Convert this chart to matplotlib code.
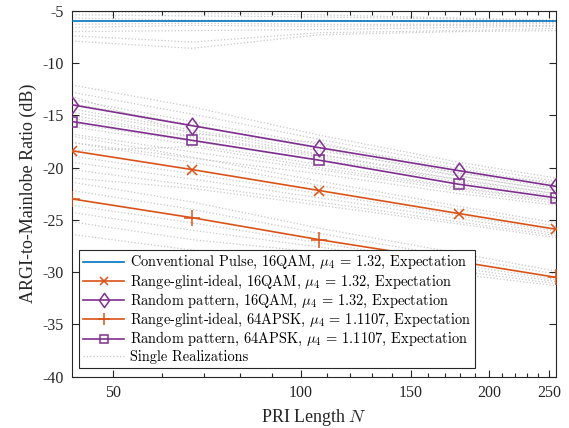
import matplotlib
matplotlib.use("Agg")
import matplotlib.pyplot as plt
from matplotlib.ticker import FixedLocator, NullFormatter
from matplotlib.lines import Line2D
from matplotlib.path import Path

plt.rcParams['axes.unicode_minus'] = False
plt.rcParams['mathtext.fontset'] = 'cm'
plt.rcParams['font.family'] = 'Liberation Serif'

# ---- data ----
N = [43, 67, 107, 179, 256]

conv_exp = [-6.0, -6.0, -6.0, -6.0, -6.0]
rg16_exp = [-18.4, -20.2, -22.2, -24.4, -25.9]
rp16_exp = [-14.0, -16.0, -18.1, -20.3, -21.8]
rg64_exp = [-23.0, -24.8, -26.9, -29.0, -30.5]
rp64_exp = [-15.6, -17.4, -19.3, -21.6, -22.9]

conv_real = [
    [-5.1, -5.2, -5.4, -5.7, -5.9],
    [-5.4, -5.5, -5.6, -5.8, -6.0],
    [-5.7, -5.9, -5.9, -6.1, -6.1],
    [-6.3, -6.2, -6.3, -6.3, -6.2],
    [-6.6, -6.4, -6.5, -6.4, -6.4],
    [-7.0, -6.9, -6.8, -6.6, -6.5],
    [-7.4, -8.0, -7.1, -6.9, -6.7],
    [-7.9, -8.6, -7.3, -7.0, -6.9],
]
rp16_real = [
    [-12.1, -14.2, -16.9, -19.5, -21.0],
    [-12.8, -14.9, -17.3, -19.8, -21.3],
    [-13.5, -15.6, -17.8, -20.1, -21.6],
    [-14.4, -16.4, -18.4, -20.5, -22.0],
    [-15.0, -17.0, -18.8, -20.8, -22.2],
    [-15.8, -17.5, -19.3, -21.1, -22.5],
    [-13.2, -16.8, -17.6, -20.6, -21.4],
]
rp64_real = [
    [-13.9, -15.9, -18.2, -20.8, -22.2],
    [-14.7, -16.6, -18.7, -21.2, -22.5],
    [-15.3, -17.1, -19.0, -21.4, -22.7],
    [-16.1, -17.8, -19.7, -21.9, -23.1],
    [-16.8, -18.5, -20.2, -22.2, -23.4],
    [-17.6, -19.1, -20.6, -22.5, -23.6],
    [-18.4, -18.0, -20.0, -22.0, -23.2],
]
rg16_real = [
    [-17.0, -19.0, -21.3, -23.7, -25.3],
    [-17.6, -19.5, -21.7, -24.0, -25.6],
    [-18.9, -20.6, -22.5, -24.6, -26.1],
    [-19.5, -21.1, -22.9, -24.9, -26.3],
    [-20.2, -21.7, -23.3, -25.2, -26.5],
    [-21.0, -22.0, -23.6, -25.4, -26.7],
]
rg64_real = [
    [-21.4, -23.3, -25.8, -28.2, -29.9],
    [-22.2, -24.0, -26.3, -28.6, -30.2],
    [-23.6, -25.3, -27.2, -29.3, -30.7],
    [-24.3, -26.0, -27.6, -29.6, -30.9],
    [-25.2, -26.9, -28.1, -29.9, -31.1],
    [-26.4, -27.9, -28.6, -30.2, -31.3],
]

labels = [
    r"Conventional Pulse, 16QAM, $\mu_4$ = 1.32, Expectation",
    r"Range-glint-ideal, 16QAM, $\mu_4$ = 1.32, Expectation",
    r"Random pattern, 16QAM, $\mu_4$ = 1.32, Expectation",
    r"Range-glint-ideal, 64APSK, $\mu_4$ = 1.1107, Expectation",
    r"Random pattern, 64APSK, $\mu_4$ = 1.1107, Expectation",
    "Single Realizations",
]
xticks = [50, 100, 150, 200, 250]
yticks = [-40, -35, -30, -25, -20, -15, -10, -5]

blue = '#0072BD'
orange = '#D95319'
purple = '#7E2F8E'
gray = '#c8c8c8'

diamond = Path([(0, 1), (0.72, 0), (0, -1), (-0.72, 0), (0, 1)],
               [Path.MOVETO, Path.LINETO, Path.LINETO, Path.LINETO, Path.CLOSEPOLY])

fig = plt.figure(figsize=(5.69, 4.28), dpi=100)
ax = fig.add_axes([0.1265, 0.12, 0.8505, 0.855])

for grp in (conv_real, rp16_real, rp64_real, rg16_real, rg64_real):
    for r in grp:
        ax.plot(N, r, linestyle=':', color=gray, linewidth=0.9, zorder=1)

lw = 1.2
sty = {
    'conv': dict(color=blue, lw=lw),
    'rg16': dict(color=orange, lw=lw, marker='x', ms=7, mew=1.1),
    'rp16': dict(color=purple, lw=lw, marker=diamond, ms=12, mfc='none', mew=1.1),
    'rg64': dict(color=orange, lw=lw, marker='+', ms=11, mew=1.1),
    'rp64': dict(color=purple, lw=lw, marker='s', ms=7, mfc='none', mew=1.1),
}
ax.plot(N, conv_exp, zorder=3, **sty['conv'])
ax.plot(N, rg16_exp, zorder=3, **sty['rg16'])
ax.plot(N, rp16_exp, zorder=3, **sty['rp16'])
ax.plot(N, rg64_exp, zorder=3, **sty['rg64'])
ax.plot(N, rp64_exp, zorder=3, **sty['rp64'])

ax.set_xscale('log')
ax.set_xlim(N[0], N[-1])
ax.set_ylim(-40, -5)
ax.xaxis.set_major_locator(FixedLocator(xticks))
ax.set_xticklabels([str(t) for t in xticks])
minors = [60, 70, 80, 90, 110, 120, 130, 140, 160, 170, 180, 190, 210, 220, 230, 240]
ax.xaxis.set_minor_locator(FixedLocator(minors))
ax.xaxis.set_minor_formatter(NullFormatter())
ax.set_yticks(yticks)
ax.set_yticklabels([str(t) for t in yticks])
ax.tick_params(which='both', direction='in', top=True, right=True, labelsize=11.5,
               colors='#262626', width=0.8)
ax.tick_params(which='major', length=5, pad=6)
ax.tick_params(which='minor', length=3)
for s in ax.spines.values():
    s.set_color('#262626')
    s.set_linewidth(0.8)

ax.set_xlabel(r"PRI Length $N$", fontsize=13, color='#262626')
ax.set_ylabel("ARGI-to-Mainlobe Ratio (dB)", fontsize=13, color='#262626')

def lh(key, scale=1.0):
    d = dict(sty[key])
    if 'ms' in d:
        d['ms'] = d['ms'] * scale
    return Line2D([], [], **d)

handles = [
    lh('conv'), lh('rg16', 0.85), lh('rp16', 0.85), lh('rg64', 0.85), lh('rp64', 0.85),
    Line2D([], [], color=gray, lw=0.9, linestyle=':'),
]
leg = ax.legend(handles, labels, loc='lower left', bbox_to_anchor=(0.0145, 0.024),
                borderaxespad=0, fancybox=False, framealpha=1, edgecolor='#262626',
                prop={'family': 'cmr10', 'size': 10.4}, handlelength=2.85,
                handleheight=0.5, handletextpad=0.35, labelspacing=0.08, borderpad=0.3)
leg.get_frame().set_linewidth(0.8)
leg.set_zorder(5)

fig.savefig('out.png', dpi=100)
